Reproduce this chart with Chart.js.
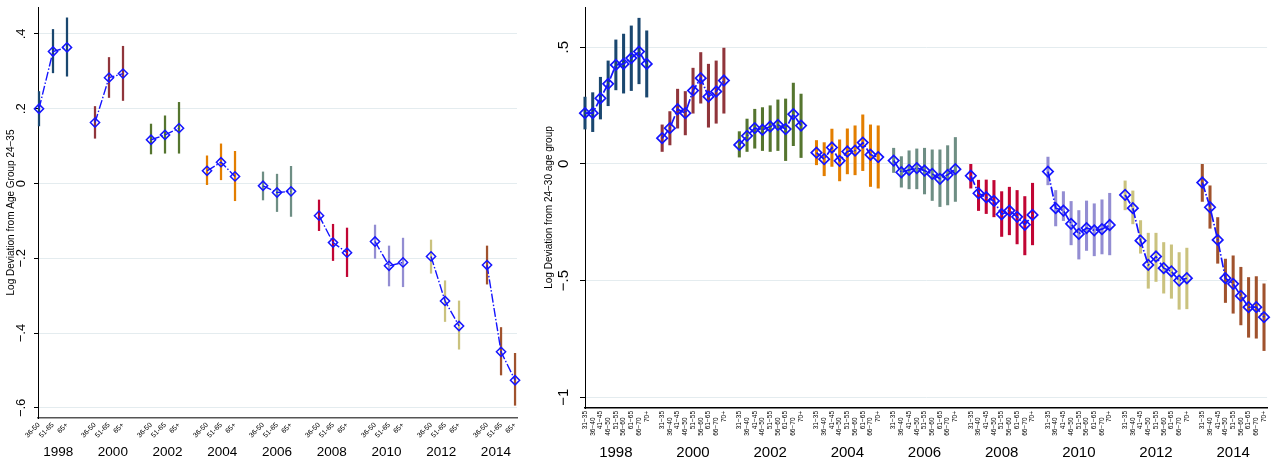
<!DOCTYPE html>
<html><head><meta charset="utf-8">
<script src="https://cdn.jsdelivr.net/npm/chart.js@4/dist/chart.umd.min.js"></script>
<style>
html,body{margin:0;padding:0;background:#fff;width:1274px;height:461px;overflow:hidden}
canvas{position:absolute;top:0}
#left{left:0;width:530px;height:461px}
#right{left:530px;width:744px;height:461px}
</style></head><body>
<canvas id="left" width="530" height="461"></canvas>
<canvas id="right" width="744" height="461"></canvas>
<script>
// ---------------- data ----------------
const YEARS = ['1998','2000','2002','2004','2006','2008','2010','2012','2014'];
const YEAR_COLORS = ['#1a476f','#90353b','#55752f','#e37e00','#6e8e84','#c10534','#938dd2','#cac27e','#a0522d'];

const LEFT_AGES = ['36-50','51-65','65+'];
const LEFT_YTICKS = [0.4, 0.2, 0, -0.2, -0.4, -0.6];
const LEFT_YTICK_LABELS = ['.4','.2','0','\u2212.2','\u2212.4','\u2212.6'];
const LEFT_TITLE = 'Log Deviation from Age Group 24\u221235';

const LEFT_EST = [
  [0.200, 0.353, 0.364],
  [0.163, 0.283, 0.294],
  [0.117, 0.130, 0.148],
  [0.034, 0.057, 0.019],
  [-0.006, -0.024, -0.021],
  [-0.086, -0.158, -0.185],
  [-0.155, -0.220, -0.211],
  [-0.195, -0.314, -0.381],
  [-0.218, -0.450, -0.526]
];
const LEFT_LO = [
  [0.154, 0.296, 0.287],
  [0.121, 0.230, 0.222],
  [0.079, 0.081, 0.081],
  [-0.003, 0.010, -0.046],
  [-0.044, -0.075, -0.088],
  [-0.126, -0.206, -0.249],
  [-0.200, -0.274, -0.276],
  [-0.240, -0.369, -0.443],
  [-0.269, -0.512, -0.593]
];
const LEFT_HI = [
  [0.246, 0.412, 0.443],
  [0.206, 0.337, 0.367],
  [0.159, 0.181, 0.217],
  [0.074, 0.106, 0.086],
  [0.031, 0.025, 0.046],
  [-0.044, -0.109, -0.119],
  [-0.111, -0.167, -0.146],
  [-0.151, -0.260, -0.314],
  [-0.167, -0.385, -0.454]
];

const RIGHT_AGES = ['31\u221235','36\u221240','41\u221245','46\u221250','51\u221255','56\u221260','61\u221265','66\u221270','70+'];
const RIGHT_YTICKS = [0.5, 0, -0.5, -1];
const RIGHT_YTICK_LABELS = ['.5','0','\u2212.5','\u22121'];
const RIGHT_TITLE = 'Log Deviation from 24\u221230 age group';

const RIGHT_EST = [
  [0.217, 0.217, 0.281, 0.343, 0.424, 0.428, 0.453, 0.481, 0.428],
  [0.110, 0.153, 0.234, 0.217, 0.314, 0.367, 0.288, 0.310, 0.357],
  [0.081, 0.120, 0.153, 0.146, 0.160, 0.167, 0.149, 0.213, 0.164],
  [0.048, 0.020, 0.070, 0.013, 0.053, 0.057, 0.091, 0.039, 0.029],
  [0.014, -0.036, -0.026, -0.018, -0.029, -0.043, -0.064, -0.047, -0.023],
  [-0.051, -0.126, -0.143, -0.159, -0.216, -0.200, -0.227, -0.261, -0.219],
  [-0.033, -0.190, -0.200, -0.257, -0.300, -0.275, -0.285, -0.280, -0.262],
  [-0.133, -0.190, -0.329, -0.433, -0.397, -0.447, -0.461, -0.500, -0.490],
  [-0.080, -0.186, -0.326, -0.490, -0.514, -0.566, -0.614, -0.614, -0.657]
];
const RIGHT_LO = [
  [0.149, 0.138, 0.192, 0.249, 0.317, 0.303, 0.314, 0.343, 0.286],
  [0.053, 0.081, 0.153, 0.124, 0.217, 0.260, 0.157, 0.174, 0.217],
  [0.029, 0.053, 0.067, 0.057, 0.053, 0.057, 0.014, 0.078, 0.027],
  [-0.004, -0.051, -0.011, -0.073, -0.043, -0.047, -0.029, -0.097, -0.104],
  [-0.037, -0.100, -0.107, -0.107, -0.129, -0.157, -0.183, -0.176, -0.161],
  [-0.104, -0.200, -0.213, -0.227, -0.311, -0.304, -0.343, -0.390, -0.347],
  [-0.090, -0.266, -0.243, -0.347, -0.408, -0.371, -0.394, -0.386, -0.390],
  [-0.197, -0.257, -0.383, -0.533, -0.504, -0.554, -0.576, -0.623, -0.621],
  [-0.161, -0.276, -0.426, -0.594, -0.640, -0.690, -0.743, -0.747, -0.800]
];
const RIGHT_HI = [
  [0.286, 0.305, 0.371, 0.441, 0.531, 0.556, 0.591, 0.624, 0.570],
  [0.167, 0.224, 0.320, 0.310, 0.410, 0.477, 0.427, 0.441, 0.496],
  [0.138, 0.192, 0.234, 0.241, 0.249, 0.274, 0.278, 0.346, 0.299],
  [0.100, 0.091, 0.149, 0.103, 0.150, 0.163, 0.210, 0.167, 0.163],
  [0.067, 0.031, 0.056, 0.064, 0.067, 0.060, 0.060, 0.078, 0.113],
  [0.000, -0.070, -0.069, -0.071, -0.119, -0.100, -0.114, -0.140, -0.083],
  [0.029, -0.114, -0.119, -0.161, -0.200, -0.159, -0.171, -0.154, -0.126],
  [-0.073, -0.116, -0.243, -0.297, -0.297, -0.337, -0.347, -0.380, -0.361],
  [0.000, -0.094, -0.230, -0.408, -0.394, -0.443, -0.487, -0.483, -0.514]
];

// ---------------- style ----------------
const FONT = "'Liberation Sans', Arial, Helvetica, sans-serif";
const BLUE = '#1414ff';
const GRID = '#e4ecef';
Chart.defaults.font.family = FONT;
Chart.defaults.color = '#000';

function hasFont(name) {
  const c = document.createElement('canvas').getContext('2d');
  const s = '1998 2000 abcdefg';
  c.font = '20px monospace'; const a = c.measureText(s).width;
  c.font = "20px '" + name + "', monospace"; const b = c.measureText(s).width;
  return Math.abs(a - b) > 0.5;
}
const NARROW = hasFont('Liberation Sans Narrow');
const LEFT_YEAR_FONT = NARROW ? {family: "'Liberation Sans Narrow', " + FONT, size: 15} : {family: FONT, size: 13.5};

function zeroPad(s) { s.paddingLeft = 0; s.paddingRight = 0; s.paddingTop = 0; s.paddingBottom = 0; }

function buildPanel(id, cfg) {
  const slot = (g, i) => g * cfg.groupSlots + i;
  const datasets = [];
  cfg.est.forEach((row, g) => {
    datasets.push({
      type: 'bar', grouped: false, order: 2, clip: false,
      data: row.map((_, i) => ({x: slot(g, i), y: [cfg.lo[g][i], cfg.hi[g][i]]})),
      backgroundColor: YEAR_COLORS[g], borderWidth: 0, barThickness: cfg.barWidth
    });
  });
  cfg.est.forEach((row, g) => {
    datasets.push({
      type: 'line', order: 1, clip: false,
      data: row.map((v, i) => ({x: slot(g, i), y: v})),
      showLine: true, borderColor: BLUE, borderWidth: cfg.lineWidth, borderDash: cfg.dash,
      tension: 0, fill: false,
      pointStyle: 'rectRot', pointRadius: cfg.markerRadius, pointBorderWidth: cfg.markerWidth,
      pointBorderColor: BLUE, pointBackgroundColor: 'rgba(0,0,0,0)'
    });
  });
  const ageTicks = [], ageLabels = [];
  YEARS.forEach((y, g) => cfg.ages.forEach((a, i) => {
    ageTicks.push(slot(g, i));
    ageLabels.push(cfg.stagger && i % 2 === 1 ? a + '\u2002\u2002' : a);
  }));
  const yearTicks = YEARS.map((_, g) => cfg.yearPos(g));

  new Chart(document.getElementById(id), {
    type: 'scatter',
    data: {datasets},
    options: {
      responsive: false, animation: false, devicePixelRatio: 1, events: [],
      layout: {padding: cfg.padding},
      plugins: {legend: {display: false}, tooltip: {enabled: false}},
      scales: {
        x: {
          type: 'linear', position: 'bottom', weight: 0, offset: false, min: cfg.xmin, max: cfg.xmax,
          grid: {display: false, drawTicks: false, offset: false},
          border: {display: true, color: cfg.xAxisColor, width: cfg.xAxisWidth},
          afterBuildTicks: s => { s.ticks = ageTicks.map(v => ({value: v})); },
          afterFit: s => { s.height = cfg.ageAxisHeight; zeroPad(s); },
          ticks: {
            autoSkip: false, minRotation: cfg.ageRotation, maxRotation: cfg.ageRotation,
            padding: cfg.agePad, font: {size: cfg.ageFont}, color: '#000',
            callback: (v, i) => ageLabels[i]
          }
        },
        x2: {
          type: 'linear', position: 'bottom', weight: 1, offset: false, min: cfg.xmin, max: cfg.xmax,
          grid: {display: false, drawTicks: false, offset: false},
          border: {display: false},
          afterBuildTicks: s => { s.ticks = yearTicks.map(v => ({value: v})); },
          afterFit: s => { s.height = cfg.yearAxisHeight; zeroPad(s); },
          ticks: {
            autoSkip: false, minRotation: 0, maxRotation: 0,
            padding: cfg.yearPad, font: cfg.yearFont, color: '#000',
            callback: (v, i) => YEARS[i]
          }
        },
        y: {
          type: 'linear', position: 'left', min: cfg.ymin, max: cfg.ymax, beginAtZero: false,
          afterBuildTicks: s => { s.ticks = cfg.yticks.map(v => ({value: v})); },
          afterFit: s => { s.width = cfg.yAxisWidth; zeroPad(s); },
          grid: {color: GRID, lineWidth: 1, drawTicks: true, tickLength: cfg.yTickLen, tickColor: '#000', tickWidth: 1},
          border: {display: true, color: '#000', width: 1},
          ticks: {
            minRotation: 90, maxRotation: 90, crossAlign: 'center',
            padding: cfg.yTickPad, font: {size: cfg.yTickFont}, color: '#000',
            callback: (v, i) => cfg.ytickLabels[i]
          },
          title: {display: true, text: cfg.yTitle, font: {size: 10}, color: '#000', padding: {top: cfg.yTitlePad, bottom: 0}}
        }
      }
    }
  });
}

buildPanel('left', {
  ages: LEFT_AGES, est: LEFT_EST, lo: LEFT_LO, hi: LEFT_HI, groupSlots: 4,
  yearPos: g => 17 + (g - 4) * 4 * 0.977,
  xmin: -0.0714, xmax: 34.14, ymin: -0.627, ymax: 0.472,
  yticks: LEFT_YTICKS, ytickLabels: LEFT_YTICK_LABELS, yTitle: LEFT_TITLE,
  padding: {left: 0, top: 7, right: 13, bottom: 0},
  yAxisWidth: 38, yTickLen: 4, yTickPad: 3, yTickFont: 13, yTitlePad: 5.5,
  ageAxisHeight: 22, ageRotation: 45, agePad: 3, ageFont: 7, stagger: false,
  yearAxisHeight: 21, yearPad: 4, yearFont: LEFT_YEAR_FONT,
  xAxisColor: '#555', xAxisWidth: 1.5,
  barWidth: 1.6, lineWidth: 1.4, dash: [9, 2, 1.5, 2], markerRadius: 4.6, markerWidth: 1.5
});

buildPanel('right', {
  ages: RIGHT_AGES, est: RIGHT_EST, lo: RIGHT_LO, hi: RIGHT_HI, groupSlots: 10,
  yearPos: g => g * 10 + 4,
  xmin: 0, xmax: 88.4, ymin: -1.046, ymax: 0.672,
  yticks: RIGHT_YTICKS, ytickLabels: RIGHT_YTICK_LABELS, yTitle: RIGHT_TITLE,
  padding: {left: 0, top: 7, right: 4, bottom: 0},
  yAxisWidth: 55, yTickLen: 5, yTickPad: 5.4, yTickFont: 15, yTitlePad: 13,
  ageAxisHeight: 30, ageRotation: 90, agePad: 3, ageFont: 6.5, stagger: true,
  yearAxisHeight: 23, yearPad: 5.5, yearFont: {family: FONT, size: 15},
  xAxisColor: '#000', xAxisWidth: 1.5,
  barWidth: 2.4, lineWidth: 1.7, dash: [10, 2, 1.5, 2], markerRadius: 5.2, markerWidth: 1.7
});
</script>
</body></html>
